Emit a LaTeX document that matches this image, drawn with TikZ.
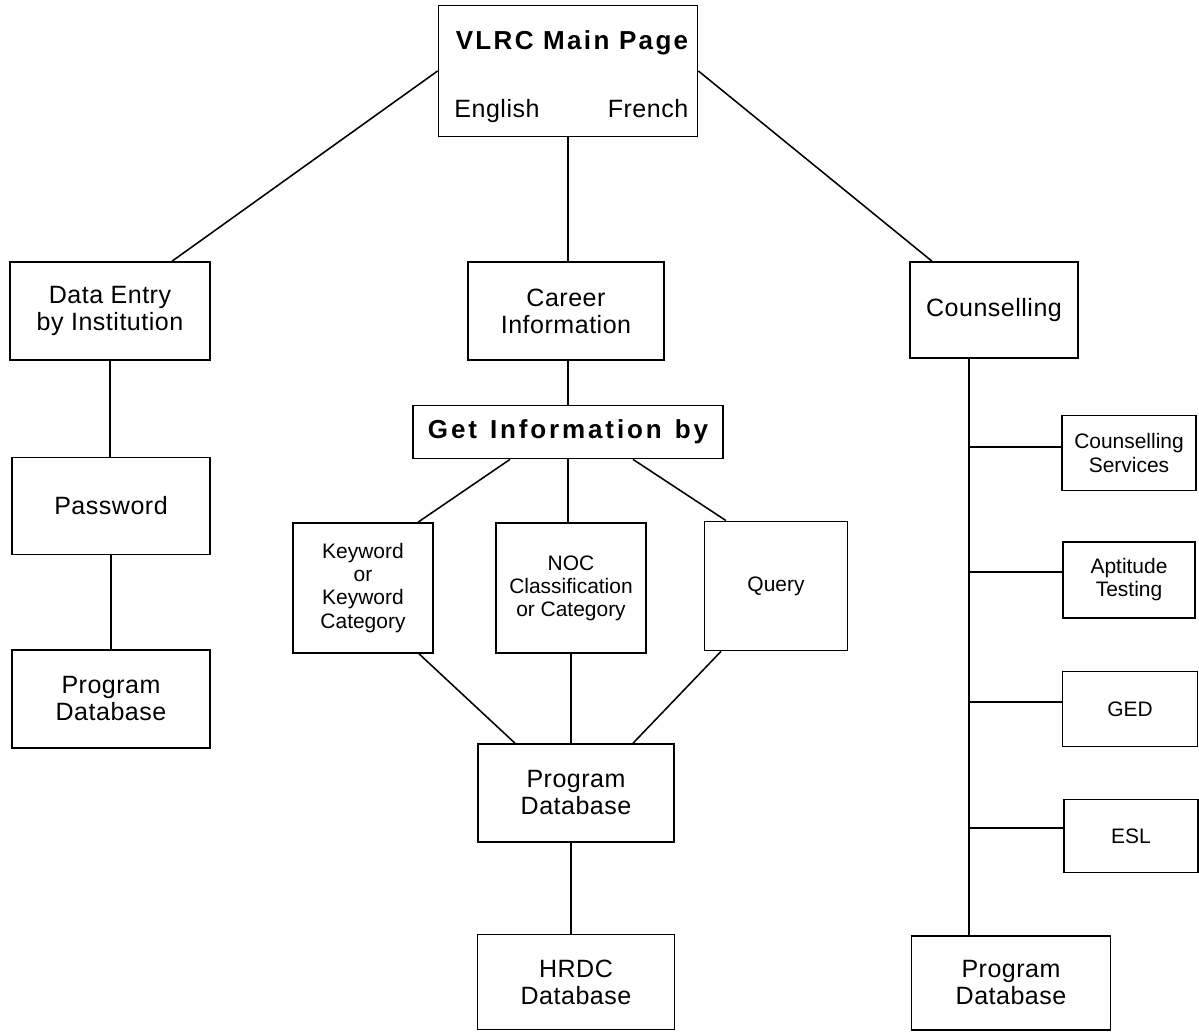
\documentclass[tikz,border=0pt]{standalone}
\usepackage{fontspec}
\setmainfont{Liberation Sans}
\usetikzlibrary{calc}

\begin{document}
\begin{tikzpicture}[x=0.025cm,y=-0.025cm,line width=1.1pt]
            \tikzstyle{box}=[rectangle,draw=black,fill=white,align=center,inner sep=0pt,font=\fontsize{17.8}{19.2}\selectfont\addfontfeature{LetterSpace=2}]
            \tikzstyle{smallbox}=[box,font=\fontsize{14.9}{16.4}\selectfont]
            \tikzstyle{plain}=[inner sep=0pt,anchor=base,font=\fontsize{17.8}{19.2}\selectfont\addfontfeature{LetterSpace=2}]
            \tikzstyle{heading}=[plain,font=\fontsize{18.5}{20}\selectfont\bfseries\addfontfeature{LetterSpace=9}]
            \useasboundingbox (0,0) rectangle (1199,1033);

                    % main page
                    \node[box,minimum width=6.48cm,minimum height=3.28cm] (main) at (568,71) {};
                    \node[heading] (main-title) at (572,49) {VLRC Main Page};
                    \node[plain] (main-en) at (497,117) {English};
                    \node[plain] (main-fr) at (648,117) {French};

                    % left branch
                    \node[box,minimum width=5cm,minimum height=2.45cm] (entry) at (110,311) {Data Entry\\by Institution};
                    \node[box,minimum width=4.95cm,minimum height=2.43cm] (passwd) at (111,506) {Password};
                    \node[box,minimum width=4.95cm,minimum height=2.45cm] (pdb-l) at (111,699) {Program\\Database};

                    % middle branch
                    \node[box,minimum width=4.9cm,minimum height=2.45cm] (career) at (566,311) {Career\\Information};
                    \node[box,minimum width=7.75cm,minimum height=1.33cm,font=\fontsize{18.5}{20}\selectfont\bfseries\addfontfeature{LetterSpace=11}] (getinfo) at (568,432) {Get\hspace{0.5em}Information\hspace{0.5em}by};
                    \node[smallbox,minimum width=3.5cm,minimum height=3.25cm] (keyword) at (363,588) {Keyword\\or\\Keyword\\Category};
                    \node[smallbox,minimum width=3.75cm,minimum height=3.25cm] (noc) at (571,588) {NOC\\Classification\\or Category};
                    \node[smallbox,minimum width=3.58cm,minimum height=3.23cm] (query) at (776,586) {Query};
                    \node[box,minimum width=4.9cm,minimum height=2.45cm] (pdb-c) at (576,793) {Program\\Database};
                    \node[box,minimum width=4.93cm,minimum height=2.38cm] (hrdc) at (576,982) {HRDC\\Database};

                    % right branch
                    \node[box,minimum width=4.2cm,minimum height=2.4cm] (couns) at (994,310) {Counselling};
                    \node[smallbox,minimum width=3.35cm,minimum height=1.88cm] (cserv) at (1129,453) {Counselling\\Services};
                    \node[smallbox,minimum width=3.3cm,minimum height=1.9cm] (apt) at (1129,580) {Aptitude\\Testing};
                    \node[smallbox,minimum width=3.38cm,minimum height=1.88cm] (ged) at (1130,709) {GED};
                    \node[smallbox,minimum width=3.35cm,minimum height=1.83cm] (esl) at (1131,836) {ESL};
                    \node[box,minimum width=4.98cm,minimum height=2.35cm] (pdb-r) at (1011,983) {Program\\Database};

                    \coordinate (trunk) at ($(couns.south)+(-25,0)$);
                    \coordinate (b-cserv) at (trunk |- 0,447);
                    \coordinate (b-apt) at (trunk |- 0,572);
                    \coordinate (b-ged) at (trunk |- 0,702);
                    \coordinate (b-esl) at (trunk |- 0,828);

                \draw (main.west) -- ($(entry.north)+(62,0)$);
                \draw (main.east) -- ($(couns.north)+(-62,0)$);
                \draw (main.south) -- (main.south |- career.north);
                \draw (career.south -| getinfo.north) -- (getinfo.north);
                \draw ($(getinfo.south)+(-58,0)$) -- ($(keyword.north)+(55,0)$);
                \draw (getinfo.south) -- (getinfo.south |- noc.north);
                \draw ($(getinfo.south)+(65,0)$) -- ($(query.north)+(-50,0)$);
                \draw ($(keyword.south)+(56,0)$) -- ($(pdb-c.north)+(-61,0)$);
                \draw (noc.south) -- (noc.south |- pdb-c.north);
                \draw ($(query.south)+(-55,0)$) -- ($(pdb-c.north)+(57,0)$);
                \draw (pdb-c.south -| noc.south) -- (noc.south |- hrdc.north);
                \draw (entry.south) -- (entry.south |- passwd.north);
                \draw (passwd.south) -- (passwd.south |- pdb-l.north);
                \draw (trunk) -- (trunk |- pdb-r.north);
                \foreach \to in {cserv, apt, ged, esl}
                    \draw (b-\to) -- (b-\to -| \to.west);
        \end{tikzpicture}
\end{document}
